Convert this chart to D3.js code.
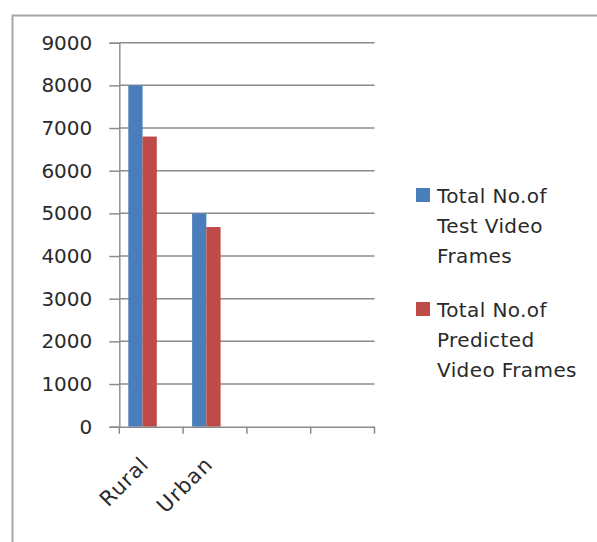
<!DOCTYPE html>
<html>
<head>
<meta charset="utf-8">
<script src="https://cdn.jsdelivr.net/npm/d3@7"></script>
<style>
  html, body { margin: 0; padding: 0; background: #fff; }
  svg { display: block; }
</style>
</head>
<body>
<svg id="chart" width="597" height="542"></svg>
<script>
// ---- data ----
const categoryLabels = ["Rural", "Urban", "", ""];
const seriesNames = ["Total No.of Test Video Frames", "Total No.of Predicted Video Frames"];
const testFrames = [8000, 5000, null, null];
const predictedFrames = [6800, 4680, null, null];
const yTicks = [0, 1000, 2000, 3000, 4000, 5000, 6000, 7000, 8000, 9000];
const legendLines = [["Total No.of", "Test Video", "Frames"], ["Total No.of", "Predicted", "Video Frames"]];
const colors = ["#4a7ebb", "#be4b48"];

const svg = d3.select("#chart");
const font = "DejaVu Sans, sans-serif";

// outer border
svg.append("rect").attr("x", 12.5).attr("y", 15.5).attr("width", 640).attr("height", 600)
  .attr("fill", "none").attr("stroke", "#a6a6a6").attr("stroke-width", 2);

const plotLeft = 119.3, plotRight = 374.5, plotTop = 42.7, plotBottom = 426.7;

const x0 = d3.scaleBand().domain(d3.range(categoryLabels.length)).range([plotLeft, plotRight]).padding(0);
const x1 = d3.scaleBand().domain(d3.range(seriesNames.length)).range([9, 37.5]).padding(0);
const y = d3.scaleLinear().domain([0, 9000]).range([plotBottom, plotTop]);

// gridlines
svg.append("g").selectAll("line").data(yTicks.filter(d => d > 0)).join("line")
  .attr("x1", plotLeft).attr("x2", plotRight)
  .attr("y1", d => y(d)).attr("y2", d => y(d))
  .attr("stroke", "#8c8c8c").attr("stroke-width", 1.5);

// y axis
const yAxis = svg.append("g").attr("transform", `translate(${plotLeft},0)`)
  .call(d3.axisLeft(y).tickValues(yTicks).tickSize(10).tickPadding(17).tickFormat(d3.format("d")));
yAxis.select(".domain").attr("stroke", "#9a9383").attr("stroke-width", 1.5);
yAxis.selectAll(".tick line").attr("stroke", "#8c8c8c").attr("stroke-width", 1.5);
yAxis.selectAll(".tick text").attr("font-family", font).attr("font-size", 20).attr("fill", "#2a2a2a");

// bars
const seriesData = [testFrames, predictedFrames];
seriesData.forEach((vals, si) => {
  svg.append("g").selectAll("rect")
    .data(vals.map((v, i) => ({ v, i })).filter(d => d.v != null)).join("rect")
    .attr("x", d => x0(d.i) + x1(si))
    .attr("width", x1.bandwidth())
    .attr("y", d => y(d.v))
    .attr("height", d => y(0) - y(d.v))
    .attr("fill", colors[si]);
});

// x axis
const xAxis = svg.append("g").attr("transform", `translate(0,${plotBottom})`)
  .call(d3.axisBottom(x0).tickValues([]).tickSize(0));
xAxis.select(".domain").attr("stroke", "#8c8c8c").attr("stroke-width", 1.5);
// category boundary ticks
const boundaries = d3.range(categoryLabels.length + 1).map(i => plotLeft + i * x0.bandwidth());
svg.append("g").selectAll("line").data(boundaries).join("line")
  .attr("x1", d => d).attr("x2", d => d).attr("y1", plotBottom).attr("y2", plotBottom + 7)
  .attr("stroke", "#8c8c8c").attr("stroke-width", 1.5);
// rotated labels
svg.append("g").selectAll("text").data(categoryLabels.map((t, i) => ({ t, i })).filter(d => d.t)).join("text")
  .attr("transform", d => `translate(${x0(d.i) + x0.bandwidth() / 2 - 1},${plotBottom + 39}) rotate(-45)`)
  .attr("text-anchor", "end")
  .attr("font-family", font).attr("font-size", 21).attr("letter-spacing", 1)
  .attr("fill", "#2a2a2a")
  .text(d => d.t);

// legend
const legend = svg.append("g");
const legendTop = [188, 302];
legendLines.forEach((lines, si) => {
  legend.append("rect").attr("x", 416).attr("y", legendTop[si]).attr("width", 14).attr("height", 14)
    .attr("fill", colors[si]);
  lines.forEach((ln, li) => {
    legend.append("text").attr("x", 437).attr("y", legendTop[si] + 15 + li * 30)
      .attr("font-family", font).attr("font-size", 20).attr("letter-spacing", 0.4)
      .attr("fill", "#2a2a2a").text(ln);
  });
});
</script>
</body>
</html>
